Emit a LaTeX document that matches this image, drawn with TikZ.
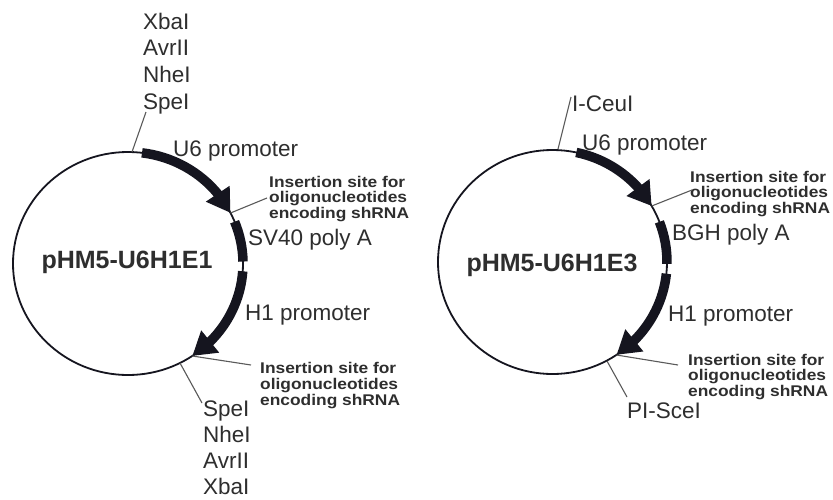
\documentclass[tikz,border=0pt]{standalone}
\usepackage{fontspec}
\setmainfont{Liberation Sans}
\newfontfamily\insfont[FakeStretch=1.12]{Liberation Sans}
\usetikzlibrary{arrows.meta,bending}
\definecolor{ink}{HTML}{15151F}
\definecolor{txt}{HTML}{2E2E2E}
\definecolor{lead}{HTML}{5A5A5A}
\tikzset{
 lbl/.style={anchor=base west, inner sep=0pt, text=txt, font=\fontsize{22.5}{27}\selectfont},
 ins/.style={anchor=base west, inner sep=0pt, text=txt, font=\insfont\bfseries\fontsize{15.5}{16}\selectfont},
 ttl/.style={inner sep=0pt, text=txt, font=\bfseries\fontsize{25}{30}\selectfont},
 ring/.style={draw=ink, line width=1.8pt},
 band/.style={draw=ink, line width=9.5pt},
 bandarrow/.style={band, -{Triangle[length=23pt,width=27pt]}},
 leader/.style={draw=lead, line width=1.1pt},
}
\begin{document}
\begin{tikzpicture}[x=1pt,y=-1pt]
\useasboundingbox[fill=white] (0,0) rectangle (833,499);
% ================= left plasmid =================
\coordinate (lc) at (128,263.5);
\draw[ring] (lc) ellipse [x radius=115, y radius=111.5];
\draw[bandarrow] (lc) ++(-83:115 and 111.5) arc[start angle=-83, end angle=-27, x radius=115, y radius=111.5];
\draw[band] (lc) ++(-22:115 and 111.5) arc[start angle=-22, end angle=-1, x radius=115, y radius=111.5];
\draw[bandarrow] (lc) ++(4:115 and 111.5) arc[start angle=4, end angle=56, x radius=115, y radius=111.5];
\node[ttl] (ltitle) at (127,262) {pHM5-U6H1E1};
% labels
\node[lbl] (lx1) at (143,29) {XbaI};
\node[lbl] (la1) at (143,55.7) {AvrII};
\node[lbl] (ln1) at (143,82.3) {NheI};
\node[lbl] (ls1) at (143,109) {SpeI};
\node[lbl] (lu6) at (173,156) {U6 promoter};
\node[lbl] (lsv) at (248,245) {SV40 poly A};
\node[lbl] (lh1) at (245,320) {H1 promoter};
\node[lbl] (ls2) at (203,416.5) {SpeI};
\node[lbl] (ln2) at (203,442.5) {NheI};
\node[lbl] (la2) at (203,468.5) {AvrII};
\node[lbl] (lx2) at (203,494.5) {XbaI};
\node[ins] (li1a) at (269,187) {Insertion site for};
\node[ins] (li1b) at (269,202.5) {oligonucleotides};
\node[ins] (li1c) at (269,218) {encoding shRNA};
\node[ins] (li2a) at (260,373) {Insertion site for};
\node[ins] (li2b) at (260,389) {oligonucleotides};
\node[ins] (li2c) at (260,405) {encoding shRNA};
% leaders
\coordinate (lp1) at (132,152);   \coordinate (lq1) at (146,112);
\coordinate (lp2) at (180,363);   \coordinate (lq2) at (202,403);
\coordinate (lp3) at (230.5,213); \coordinate (lq3) at (267,198);
\coordinate (lp4) at (192.3,356); \coordinate (lq4) at (251,365);
\draw[leader] (lp1) -- (lq1);
\draw[leader] (lp2) -- (lq2);
\draw[leader] (lp3) -- (lq3);
\draw[leader] (lp4) -- (lq4);
% ================= right plasmid =================
\coordinate (rc) at (552.5,262);
\draw[ring] (rc) ellipse [x radius=114.5, y radius=112];
\draw[bandarrow] (rc) ++(-78:114.5 and 112) arc[start angle=-78, end angle=-30, x radius=114.5, y radius=112];
\draw[band] (rc) ++(-21:114.5 and 112) arc[start angle=-21, end angle=1, x radius=114.5, y radius=112];
\draw[bandarrow] (rc) ++(6:114.5 and 112) arc[start angle=6, end angle=56, x radius=114.5, y radius=112];
\node[ttl] (rtitle) at (552,265) {pHM5-U6H1E3};
\node[lbl] (rce) at (572,111) {I-CeuI};
\node[lbl] (ru6) at (582,150) {U6 promoter};
\node[lbl] (rbgh) at (672,240) {BGH poly A};
\node[lbl] (rh1) at (668,321) {H1 promoter};
\node[lbl] (rpi) at (627,418) {PI-SceI};
\node[ins] (ri1a) at (690,182) {Insertion site for};
\node[ins] (ri1b) at (690,197.5) {oligonucleotides};
\node[ins] (ri1c) at (690,213) {encoding shRNA};
\node[ins] (ri2a) at (688,365) {Insertion site for};
\node[ins] (ri2b) at (688,380.5) {oligonucleotides};
\node[ins] (ri2c) at (688,396) {encoding shRNA};
\coordinate (rp1) at (558,149);   \coordinate (rq1) at (571,97);
\coordinate (rp2) at (607,361);   \coordinate (rq2) at (627,397);
\coordinate (rp3) at (651.7,206); \coordinate (rq3) at (692,190);
\coordinate (rp4) at (616.5,355); \coordinate (rq4) at (678,365);
\draw[leader] (rp1) -- (rq1);
\draw[leader] (rp2) -- (rq2);
\draw[leader] (rp3) -- (rq3);
\draw[leader] (rp4) -- (rq4);
\end{tikzpicture}
\end{document}
